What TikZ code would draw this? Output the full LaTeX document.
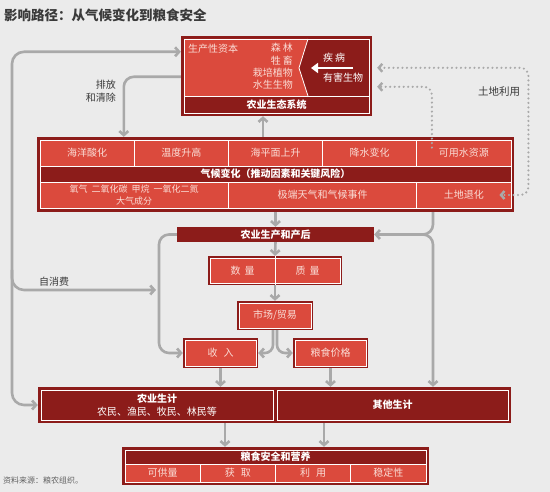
\documentclass[tikz,border=0pt]{standalone}
\usepackage{fontspec}
\setmainfont{Noto Sans CJK SC}
\usetikzlibrary{arrows.meta,calc,positioning}

\definecolor{bgcol}{HTML}{EBEBEB}
\definecolor{lred}{HTML}{DB4A3D}
\definecolor{dred}{HTML}{8C1C1A}
\definecolor{ltext}{HTML}{FADDD6}
\definecolor{arrgray}{HTML}{A9A9A9}
\definecolor{labgray}{HTML}{3A3A3A}

\begin{document}
\begin{tikzpicture}[x=1pt, y=-1pt, font=\fontsize{10}{12}\selectfont,
  barb/.tip={Straight Barb[length=4pt, width=9pt]},
  arr/.style={draw=arrgray, line width=2.6pt, -barb},
  dotline/.style={draw=arrgray, line width=2.4pt, dash pattern=on 0pt off 4.5pt, line cap=round},
  frame/.style={fill=dred, inner sep=0pt},
  cell/.style={fill=lred, draw=white, line width=0.8pt, text=ltext, inner sep=0pt},
  dcell/.style={fill=dred, draw=white, line width=0.8pt, text=white, inner sep=0pt, font=\fontsize{10}{12}\selectfont\bfseries},
  framed/.style={fill=lred, draw=white, line width=0.8pt, preaction={draw=dred, line width=4.4pt},
    text=ltext, inner sep=0pt, outer sep=2.2pt},
  label/.style={text=labgray, inner sep=0pt}]

  % Background and page size
  \fill[bgcol] (0,0) rectangle (550,492);
  \useasboundingbox (0,0) rectangle (550,492);

  % Title
  \node[anchor=west, inner sep=0pt, text=labgray, font=\fontsize{13.5}{16}\selectfont\bfseries] (title) at (4,15) {影响路径：从气候变化到粮食安全};

  % Agro-ecosystem box
  \node[frame, minimum width=191pt, minimum height=80pt] (eco) at (276.5,76) {};
  \fill[lred] (184,39) -- (308,39) -- (299,68) -- (308,96) -- (184,96) -- cycle;
  \draw[white, line width=0.8pt] (184,39) rectangle (369,113);
  \draw[white, line width=0.8pt] (308,39) -- (299,68) -- (308,96);
  \draw[white, line width=0.8pt] (184,96) -- (369,96);
  \node[anchor=west, inner sep=0pt, text=ltext] (cap) at (188,49) {生产性资本};
  \node[anchor=east, inner sep=0pt, align=right, text=ltext, font=\fontsize{10}{12.3}\selectfont] (stock) at (293,66.5)
    {森\hspace{2pt}林\\牲\hspace{2pt}畜\\栽培植物\\水生生物};
  \node[anchor=west, inner sep=0pt, text=white] (pest1) at (323,58) {疾\hspace{2pt}病};
  \node[anchor=west, inner sep=0pt, text=white] (pest2) at (323,78) {有害生物};
  \draw[white, line width=2.6pt, -{Triangle[length=7pt, width=10pt]}] (353,68) -- (311,68);
  \node[text=white, inner sep=0pt, font=\fontsize{10}{12}\selectfont\bfseries] (econame) at (276.5,104.5) {农业生态系统};

  % Climate change box
  \node[frame, minimum width=477pt, minimum height=75pt] (clim) at (275.5,174.5) {};
  \foreach \t [count=\i] in {海洋酸化,温度升高,海平面上升,降水变化,可用水资源}
    \node[cell, minimum width=94.2pt, minimum height=26pt] (r\i) at ({40+94.2*(\i-0.5)},153) {\t};
  \node[dcell, minimum width=471pt, minimum height=16pt] (climname) at (275.5,174) {气候变化（推动因素和关键风险）};
  \node[cell, minimum width=188.4pt, minimum height=26pt, align=center, font=\fontsize{9}{12}\selectfont] (gas) at (134.2,195)
    {氧气\hspace{4pt}二氧化碳\hspace{4pt}甲烷\hspace{4pt}一氧化二氮\\大气成分};
  \node[cell, minimum width=188.4pt, minimum height=26pt] (ext) at (322.6,195) {极端天气和气候事件};
  \node[cell, minimum width=94.2pt, minimum height=26pt] (ld) at (463.9,195) {土地退化};

  % Production and market chain
  \node[fill=dred, text=white, inner sep=0pt, minimum width=197pt, minimum height=15pt,
    font=\fontsize{10}{12}\selectfont\bfseries] (prod) at (275.5,234.5) {农业生产和产后};
  \node[framed, minimum width=130pt, minimum height=25pt] (qq) at (275,270.5) {};
  \draw[white, line width=0.8pt] (qq.north) -- (qq.south);
  \node[text=ltext, inner sep=0pt] (qty) at (242.5,270.5) {数\hspace{4pt}量};
  \node[text=ltext, inner sep=0pt] (qual) at (307.5,270.5) {质\hspace{4pt}量};
  \node[framed, minimum width=72pt, minimum height=25pt] (mkt) at (275,315.5) {市场/贸易};
  \node[framed, minimum width=71pt, minimum height=26pt] (inc) at (220.5,353) {收\hspace{6pt}入};
  \node[framed, minimum width=71pt, minimum height=26pt] (price) at (330.5,353) {粮食价格};

  % Livelihoods box
  \node[frame, minimum width=473pt, minimum height=36pt] (lv) at (274.5,405) {};
  \node[dcell, minimum width=232pt, minimum height=30pt, align=center, font=\fontsize{10}{13}\selectfont] (farm) at (157,405)
    {\textbf{农业生计}\\农民、渔民、牧民、林民等};
  \node[dcell, minimum width=231pt, minimum height=30pt] (other) at (392.5,405) {其他生计};

  % Food security and nutrition box
  \node[frame, minimum width=307pt, minimum height=38pt] (fsn) at (275.5,466) {};
  \node[dcell, minimum width=301pt, minimum height=14pt] (fsnname) at (275.5,457) {粮食安全和营养};
  \foreach \t [count=\i] in {可供量,{获\hspace{6pt}取},{利\hspace{6pt}用},稳定性}
    \node[cell, minimum width=75.25pt, minimum height=18pt] (f\i) at ({125+75.25*(\i-0.5)},473) {\t};

  % Labels
  \node[label, anchor=east, align=right, font=\fontsize{10}{13}\selectfont] (emis) at (116,91.5) {排放\\和清除};
  \node[label, anchor=west] (selfc) at (39,282) {自消费};
  \node[label, anchor=west, font=\fontsize{10.5}{12}\selectfont] (landuse) at (478,92) {土地利用};
  \node[anchor=west, inner sep=0pt, text=labgray!80, font=\fontsize{8}{10}\selectfont] (src) at (3,480) {资料来源：粮农组织。};

  % Helper coordinates
  \coordinate (lft) at (12,290);
  \coordinate (sc) at (159,290);
  \coordinate (fork) at (433,234.5);

  % Arrows between ecosystem and climate
  \draw[arr] ([xshift=-12.5pt]clim.north) -- ([xshift=-12.5pt]clim.north |- eco.south);
  \draw[arr, rounded corners=10pt] ([yshift=-41pt]eco.north west) -| ([xshift=87pt]clim.north west);

  % Outer loop on the left
  \draw[arr, barb-barb, rounded corners=12pt] ([yshift=-16pt]eco.north west) -| (lft) |- (lv.west);
  \draw[arr, rounded corners=12pt, shorten >=3pt] ([yshift=20pt]lft) |- (sc);

  % Climate to production
  \draw[arr] (clim.south) -- (prod.north);
  \draw[arr, rounded corners=10pt] (fork |- clim.south) |- (prod.east);
  \draw[arr, rounded corners=10pt] ([xshift=-15pt]fork) -| (fork |- lv.north);

  % Production chain
  \draw[arr, rounded corners=10pt] (prod.west) -| (sc) |- (inc.west);
  \draw[arr] (prod.south) -- (qq.north);
  \draw[arr] (qq.south) -- (mkt.north);
  \draw[arr, rounded corners=8pt] ([xshift=-2pt]mkt.south) |- (inc.east);
  \draw[arr, rounded corners=8pt] ([xshift=2pt]mkt.south) |- (price.west);
  \draw[arr] (inc.south) -- (inc.south |- lv.north);
  \draw[arr] (price.south) -- (price.south |- lv.north);

  % Livelihoods to food security
  \draw[arr] ([xshift=-49.5pt]lv.south) -- ([xshift=-49.5pt]lv.south |- fsn.north);
  \draw[arr] ([xshift=49.5pt]lv.south) -- ([xshift=49.5pt]lv.south |- fsn.north);

  % Land use (dotted)
  \draw[dotline, {Straight Barb[length=3.5pt, width=8pt]}-{Straight Barb[length=3.5pt, width=8pt]}, rounded corners=8pt]
    ([xshift=5pt, yshift=-32pt]eco.north east) -| ([xshift=17pt]ld.east) -- ([xshift=-12pt]ld.east);
  \draw[dotline, -{Straight Barb[length=3.5pt, width=8pt]}, rounded corners=8pt]
    ([xshift=-32pt, yshift=-8pt]r5.north) |- ([xshift=5pt, yshift=-51pt]eco.north east);

\end{tikzpicture}
\end{document}
